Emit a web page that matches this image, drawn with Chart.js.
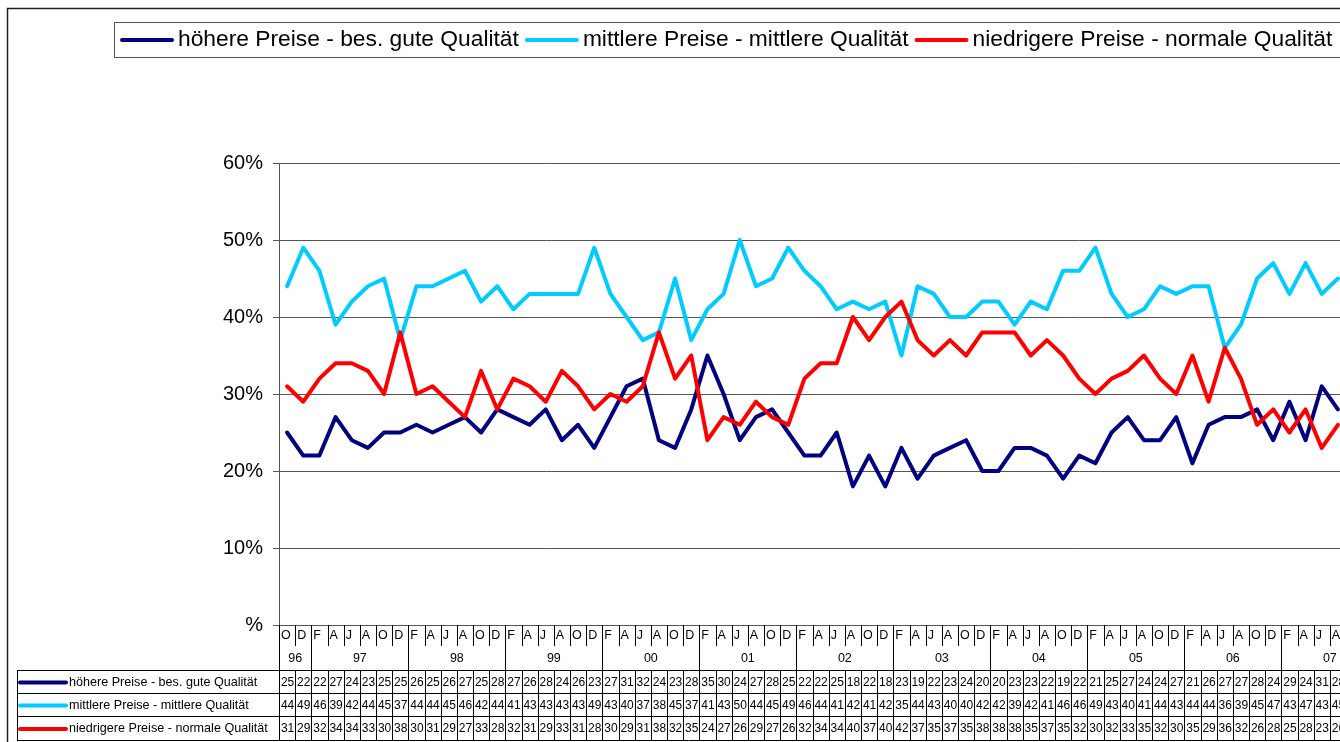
<!DOCTYPE html>
<html>
<head>
<meta charset="utf-8">
<script src="https://cdn.jsdelivr.net/npm/chart.js@4.4.0/dist/chart.umd.min.js"></script>
<style>
  html, body { margin: 0; padding: 0; background: #fff; overflow: hidden; }
  #wrap { width: 1360px; height: 742px; }
</style>
</head>
<body>
<div id="wrap"><canvas id="chart" width="1360" height="742"></canvas></div>
<script>
// bimonthly survey waves, Oct 96 .. Aug 07
const months = [
  'O','D',
  'F','A','J','A','O','D',
  'F','A','J','A','O','D',
  'F','A','J','A','O','D',
  'F','A','J','A','O','D',
  'F','A','J','A','O','D',
  'F','A','J','A','O','D',
  'F','A','J','A','O','D',
  'F','A','J','A','O','D',
  'F','A','J','A','O','D',
  'F','A','J','A','O','D',
  'F','A','J','A'
];
const years = ['96','97','98','99','00','01','02','03','04','05','06','07'];
// months per year block (the 07 block runs past the right edge)
const yearSpans = [2,6,6,6,6,6,6,6,6,6,6,6];

const highPrice = [
  25,22,
  22,27,24,23,25,25,
  26,25,26,27,25,28,
  27,26,28,24,26,23,
  27,31,32,24,23,28,
  35,30,24,27,28,25,
  22,22,25,18,22,18,
  23,19,22,23,24,20,
  20,23,23,22,19,22,
  21,25,27,24,24,27,
  21,26,27,27,28,24,
  29,24,31,28
];
const midPrice = [
  44,49,
  46,39,42,44,45,37,
  44,44,45,46,42,44,
  41,43,43,43,43,49,
  43,40,37,38,45,37,
  41,43,50,44,45,49,
  46,44,41,42,41,42,
  35,44,43,40,40,42,
  42,39,42,41,46,46,
  49,43,40,41,44,43,
  44,44,36,39,45,47,
  43,47,43,45
];
const lowPrice = [
  31,29,
  32,34,34,33,30,38,
  30,31,29,27,33,28,
  32,31,29,33,31,28,
  30,29,31,38,32,35,
  24,27,26,29,27,26,
  32,34,34,40,37,40,
  42,37,35,37,35,38,
  38,38,35,37,35,32,
  30,32,33,35,32,30,
  35,29,36,32,26,28,
  25,28,23,26
];

const yTicks = [0,10,20,30,40,50,60];
const yTickLabels = ['%','10%','20%','30%','40%','50%','60%'];

const FONT = '"Liberation Sans", Arial, sans-serif';

// outer frame + legend box at the top
const legendBox = {
  id: 'legendBox',
  afterDraw(chart) {
    const ctx = chart.ctx;
    ctx.save();
    ctx.strokeStyle = '#222';
    ctx.lineWidth = 1.5;
    ctx.strokeRect(7.5, 8.5, 1500, 900);

    ctx.strokeStyle = '#555';
    ctx.lineWidth = 1;
    ctx.strokeRect(114.5, 22.5, 1500, 35);

    ctx.font = '22.8px ' + FONT;
    ctx.textBaseline = 'middle';
    let x = 120;
    const y = 40;
    chart.data.datasets.forEach(ds => {
      ctx.strokeStyle = ds.borderColor;
      ctx.lineWidth = 4;
      ctx.lineCap = 'round';
      ctx.beginPath();
      ctx.moveTo(x + 2, y);
      ctx.lineTo(x + 52, y);
      ctx.stroke();
      ctx.fillStyle = '#000';
      ctx.fillText(ds.label, x + 58, y);
      x += 58 + ctx.measureText(ds.label).width + 6;
    });
    ctx.restore();
  }
};

// category labels and data table under the plot
const dataTable = {
  id: 'dataTable',
  afterDraw(chart) {
    const ctx = chart.ctx;
    const xs = chart.scales.x;
    const area = chart.chartArea;
    const w = xs.getPixelForValue(1) - xs.getPixelForValue(0);
    const edge = i => xs.getPixelForValue(0) - w / 2 + i * w;
    const n = months.length;
    const top = area.bottom;
    const rowY = [670, 693, 716, 740];
    const right = chart.width;

    ctx.save();
    ctx.strokeStyle = '#000';
    ctx.lineWidth = 1;

    // year boundaries
    const yearStart = [];
    let c = 0;
    yearSpans.forEach(s => { yearStart.push(c); c += s; });

    ctx.beginPath();
    for (let i = 1; i <= n; i++) {
      const bx = Math.round(edge(i)) + 0.5;
      const isYear = yearStart.includes(i);
      ctx.moveTo(bx, top);
      ctx.lineTo(bx, isYear ? rowY[0] : top + 21);
    }
    // horizontal rows
    rowY.forEach(yy => {
      ctx.moveTo(17, yy + 0.5);
      ctx.lineTo(right, yy + 0.5);
    });
    // left column border + axis continuation
    ctx.moveTo(17.5, rowY[0]);
    ctx.lineTo(17.5, rowY[3] + 1);
    ctx.moveTo(Math.round(area.left) + 0.5, top);
    ctx.lineTo(Math.round(area.left) + 0.5, rowY[3] + 1);
    // cell separators in data rows
    for (let i = 1; i <= n; i++) {
      const bx = Math.round(edge(i)) + 0.5;
      ctx.moveTo(bx, rowY[0]);
      ctx.lineTo(bx, rowY[3]);
    }
    ctx.stroke();

    ctx.fillStyle = '#000';
    ctx.textBaseline = 'middle';
    ctx.font = '12.5px ' + FONT;
    ctx.textAlign = 'left';
    months.forEach((m, i) => ctx.fillText(m, edge(i) + 2, top + 11));

    ctx.textAlign = 'center';
    years.forEach((yr, k) => {
      const cx = edge(yearStart[k]) + yearSpans[k] * w / 2;
      ctx.fillText(yr, cx, top + 34);
    });

    // series rows
    chart.data.datasets.forEach((ds, r) => {
      const cy = (rowY[r] + rowY[r + 1]) / 2 + 1;
      ctx.font = '12px ' + FONT;
      ds.data.forEach((v, i) => {
        ctx.textAlign = 'center';
        ctx.fillText(String(v), edge(i) + w / 2 + 0.5, cy);
      });
      ctx.strokeStyle = ds.borderColor;
      ctx.lineWidth = 4;
      ctx.lineCap = 'round';
      ctx.beginPath();
      ctx.moveTo(20, cy);
      ctx.lineTo(66, cy);
      ctx.stroke();
      ctx.textAlign = 'left';
      ctx.font = '12.6px ' + FONT;
      ctx.fillText(ds.label, 69, cy);
    });
    ctx.restore();
  }
};

new Chart(document.getElementById('chart'), {
  type: 'line',
  data: {
    labels: months,
    datasets: [
      { label: 'höhere Preise - bes. gute Qualität', data: highPrice, borderColor: '#000080', order: 2 },
      { label: 'mittlere Preise - mittlere Qualität', data: midPrice, borderColor: '#00CCFF', order: 1 },
      { label: 'niedrigere Preise - normale Qualität', data: lowPrice, borderColor: '#FF0000', order: 0 }
    ]
  },
  options: {
    responsive: false,
    animation: false,
    devicePixelRatio: 1,
    layout: { padding: { left: 0, top: 163, right: 14, bottom: 117 } },
    elements: {
      line: { borderWidth: 4, tension: 0, borderJoinStyle: 'round', borderCapStyle: 'round' },
      point: { radius: 0, hoverRadius: 0 }
    },
    plugins: {
      legend: { display: false },
      tooltip: { enabled: false }
    },
    scales: {
      x: { type: 'category', display: false, offset: true },
      y: {
        min: 0,
        max: 60,
        afterBuildTicks: s => { s.ticks = yTicks.map(v => ({ value: v })); },
        afterFit: s => { s.width = 279; },
        ticks: {
          callback: (v, i) => yTickLabels[i],
          color: '#000',
          padding: 10,
          font: { family: FONT, size: 20 }
        },
        grid: { color: '#555', lineWidth: 1, tickLength: 6 },
        border: { color: '#555', width: 1 }
      }
    }
  },
  plugins: [legendBox, dataTable]
});
</script>
</body>
</html>
